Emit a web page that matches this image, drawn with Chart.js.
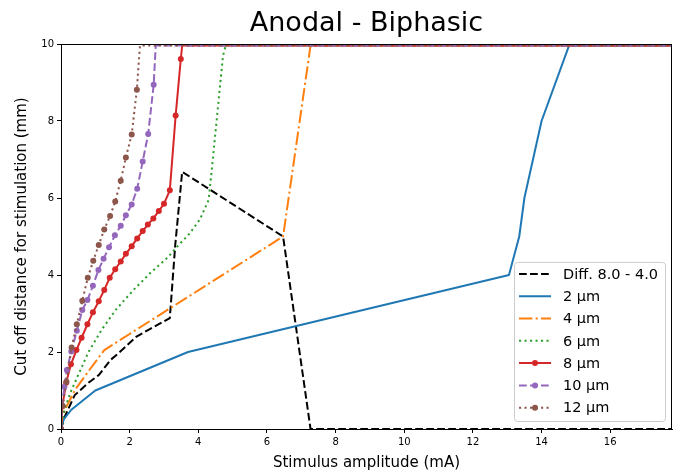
<!DOCTYPE html>
<html>
<head>
<meta charset="utf-8">
<script src="https://cdn.jsdelivr.net/npm/chart.js@4"></script>
<style>
  html, body { margin: 0; padding: 0; background: #fff; }
  #wrap { width: 676px; height: 473px; }
</style>
</head>
<body>
<div id="wrap"><canvas id="chart" width="676" height="473"></canvas></div>
<script>
// ---- data ----
const X_MAX = 17.8;
const Y_MAX = 10;
const SAT = 9.96; // curves flatten out just under the top of the axes

const diffX = [0, 0.1, 0.4, 0.8, 1.1, 1.45, 1.65, 2.2, 2.6, 3.17, 3.33, 3.49, 3.53, 6.47, 7.27, 17.8];
const diffY = [0, 0.3, 0.88, 1.2, 1.4, 1.8, 1.95, 2.4, 2.6, 2.88, 4.8, 6.3, 6.68, 5.0, 0, 0];

const d2X = [0, 0.08, 0.3, 1.0, 3.7, 13.05, 13.35, 13.5, 14.0, 14.8, 17.8];
const d2Y = [0, 0.25, 0.5, 1.0, 2.0, 4.0, 5.0, 6.0, 8.0, SAT, SAT];

const d4X = [0, 0.03, 0.16, 0.41, 0.8, 1.26, 6.47, 7.27, 17.8];
const d4Y = [0, 0.3, 0.58, 1.02, 1.5, 2.05, 5.0, SAT, SAT];

const d6X = [0, 0.1, 0.3, 0.55, 0.8, 1.2, 1.6, 2.1, 2.6, 3.1, 3.45, 3.75, 4.05, 4.3, 4.4, 4.72, 4.8, 17.8];
const d6Y = [0, 0.5, 1.0, 1.5, 2.0, 2.6, 3.1, 3.6, 4.05, 4.45, 4.8, 5.08, 5.45, 5.95, 6.8, 9.7, SAT, SAT];

const d8X = [0, 0.04, 0.15, 0.29, 0.45, 0.60, 0.77, 0.93, 1.10, 1.26, 1.42, 1.58, 1.74, 1.89, 2.06, 2.22, 2.38, 2.53, 2.69, 2.85, 3.00, 3.17, 3.34, 3.49, 3.53, 17.8];
const d8Y = [0, 0.6, 1.2, 1.68, 2.05, 2.37, 2.72, 3.03, 3.32, 3.61, 3.93, 4.15, 4.35, 4.55, 4.75, 4.95, 5.14, 5.31, 5.47, 5.66, 5.85, 6.20, 8.14, 9.61, SAT, SAT];

const d10X = [0, 0.03, 0.10, 0.17, 0.30, 0.46, 0.62, 0.77, 0.93, 1.09, 1.24, 1.40, 1.57, 1.74, 1.89, 2.06, 2.22, 2.38, 2.54, 2.70, 2.76, 17.8];
const d10Y = [0, 0.6, 1.1, 1.53, 2.01, 2.55, 3.09, 3.35, 3.72, 4.13, 4.42, 4.72, 5.03, 5.28, 5.55, 5.83, 6.24, 6.95, 7.66, 8.94, SAT, SAT];

const d12X = [0, 0.05, 0.16, 0.31, 0.46, 0.62, 0.78, 0.94, 1.10, 1.26, 1.43, 1.58, 1.74, 1.89, 2.06, 2.21, 2.30, 17.8];
const d12Y = [0, 0.6, 1.23, 2.12, 2.72, 3.33, 3.93, 4.37, 4.78, 5.18, 5.53, 5.91, 6.45, 7.05, 7.65, 8.81, SAT, SAT];

const FONT = '"DejaVu Sans", "Liberation Sans", sans-serif';
const pts = (xs, ys) => xs.map((x, i) => ({ x, y: ys[i] }));

// matplotlib-like dash patterns (lw ~2px)
const DASHED = [7.7, 3.3];
const DASHDOT = [13.3, 3.3, 2.1, 3.3];
const DOTTED = [2.1, 3.4];

function series(label, xs, ys, color, dash, marker) {
  return {
    label,
    data: pts(xs, ys),
    borderColor: color,
    backgroundColor: color,
    borderWidth: 2,
    borderDash: dash,
    borderJoinStyle: 'round',
    pointRadius: marker ? (c) => (c.raw && c.raw.y >= SAT ? 0 : 3) : 0,
    pointBorderWidth: 0,
    pointBackgroundColor: color,
    tension: 0,
    legendMarker: marker
  };
}

const datasets = [
  series('Diff. 8.0 - 4.0', diffX, diffY, '#000000', DASHED, false),
  series('2 µm', d2X, d2Y, '#1f77b4', [], false),
  series('4 µm', d4X, d4Y, '#ff7f0e', DASHDOT, false),
  series('6 µm', d6X, d6Y, '#2ca02c', DOTTED, false),
  series('8 µm', d8X, d8Y, '#d62728', [], true),
  series('10 µm', d10X, d10Y, '#9467bd', DASHED, true),
  series('12 µm', d12X, d12Y, '#8c564b', DOTTED, true)
];
// later series on top, like matplotlib
datasets.forEach((d, i) => { d.order = datasets.length - 1 - i; });

// box around the axes, drawn over the lines
const frame = {
  id: 'frame',
  afterDatasetsDraw(chart) {
    const { ctx, chartArea: a } = chart;
    ctx.save();
    ctx.strokeStyle = '#000';
    ctx.lineWidth = 1;
    ctx.strokeRect(Math.round(a.left) + 0.5, Math.round(a.top) + 0.5,
      Math.round(a.right - a.left) - 1, Math.round(a.bottom - a.top));
    ctx.restore();
  }
};

// legend in the lower right of the axes
const insideLegend = {
  id: 'insideLegend',
  afterDraw(chart) {
    const { ctx, chartArea } = chart;
    const sets = chart.data.datasets;
    ctx.save();
    ctx.font = '14.5px ' + FONT;
    const textW = Math.max(...sets.map((d) => ctx.measureText(d.label).width));
    const rowH = 22.3, padX = 5, sampleW = 32, gap = 12;
    const w = padX + sampleW + gap + textW + 7;
    const h = rowH * sets.length + 3;
    const right = chartArea.right - 7, bottom = chartArea.bottom - 8;
    const left = right - w, top = bottom - h;
    ctx.beginPath();
    ctx.roundRect(left + 0.5, top + 0.5, w, h, 3);
    ctx.fillStyle = 'rgba(255,255,255,0.8)';
    ctx.fill();
    ctx.strokeStyle = '#cccccc';
    ctx.lineWidth = 1;
    ctx.stroke();
    sets.forEach((d, i) => {
      const y = top + 12 + i * rowH;
      ctx.setLineDash(d.borderDash || []);
      ctx.strokeStyle = d.borderColor;
      ctx.lineWidth = d.borderWidth;
      ctx.beginPath();
      ctx.moveTo(left + padX, y);
      ctx.lineTo(left + padX + sampleW, y);
      ctx.stroke();
      ctx.setLineDash([]);
      if (d.legendMarker) {
        ctx.beginPath();
        ctx.arc(left + padX + sampleW / 2, y, 3, 0, Math.PI * 2);
        ctx.fillStyle = d.borderColor;
        ctx.fill();
      }
      ctx.fillStyle = '#000';
      ctx.textBaseline = 'middle';
      ctx.textAlign = 'left';
      ctx.fillText(d.label, left + padX + sampleW + gap, y + 1);
    });
    ctx.restore();
  }
};

const axisCommon = {
  type: 'linear',
  min: 0,
  ticks: { stepSize: 2, includeBounds: false, color: '#000', font: { family: FONT, size: 10 }, padding: 3 },
  grid: { display: true, drawOnChartArea: false, drawTicks: true, tickLength: 4, color: '#000', tickWidth: 1 },
  border: { display: true, color: '#000', width: 1 }
};

new Chart(document.getElementById('chart'), {
  type: 'line',
  data: { datasets },
  options: {
    responsive: false,
    animation: false,
    events: [],
    layout: { padding: { left: 0, right: 4, top: 0, bottom: 0 } },
    scales: {
      x: {
        ...axisCommon,
        max: X_MAX,
        title: { display: true, text: 'Stimulus amplitude (mA)', color: '#000', font: { family: FONT, size: 15 }, padding: { top: 0, bottom: 1 } },
        afterFit(s) { s.height = 44; }
      },
      y: {
        ...axisCommon,
        max: Y_MAX,
        title: { display: true, text: 'Cut off distance for stimulation (mm)', color: '#000', font: { family: FONT, size: 15 }, padding: { top: 13, bottom: 0 } },
        afterFit(s) { s.width = 61; }
      }
    },
    plugins: {
      legend: { display: false },
      tooltip: { enabled: false },
      title: {
        display: true,
        fullSize: false,
        text: 'Anodal - Biphasic',
        color: '#000',
        font: { family: FONT, size: 27, weight: 'normal' },
        padding: { top: 8, bottom: 3.6 }
      }
    }
  },
  plugins: [frame, insideLegend]
});
</script>
</body>
</html>
